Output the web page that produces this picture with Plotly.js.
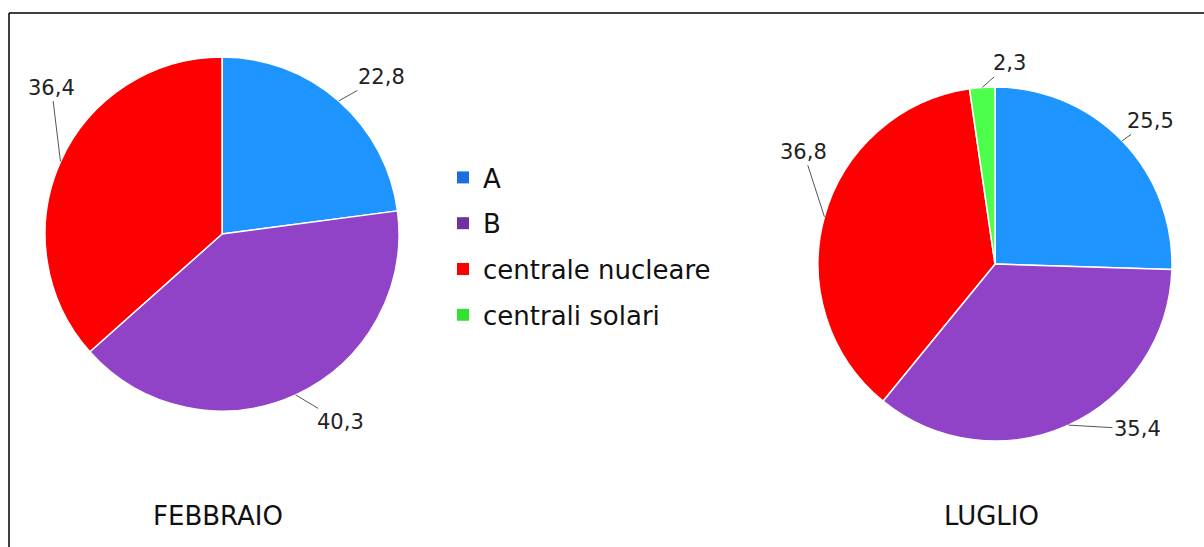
<!DOCTYPE html>
<html>
<head>
<meta charset="utf-8">
<script src="https://cdn.plot.ly/plotly-3.0.1.min.js"></script>
<style>html,body{margin:0;padding:0;background:#fff;}#chart{width:1204px;height:547px;}</style>
</head>
<body>
<div id="chart"></div>
<script>
// ---- data ----
var categories = ["A", "B", "centrale nucleare", "centrali solari"];
var febbraioValues = [22.8, 40.3, 36.4];
var luglioValues = [25.5, 35.4, 36.8, 2.3];
var chartTitles = ["FEBBRAIO", "LUGLIO"];

// ---- styles ----
var sliceColors = ["#1E94FF", "#9143C8", "#FF0000", "#4CFF4C"];
var legendColors = ["#1A6EDF", "#7030A0", "#FF0000", "#35E035"];
var FONT = "DejaVu Sans, Liberation Sans, Arial, sans-serif";
var W = 1204, H = 547;
// pie geometry (pixels): centre x, centre y, radius
var pieGeom = [{cx: 222, cy: 234, r: 177}, {cx: 995, cy: 264, r: 177}];
// label offsets from the slice rim point (pixels)
var labelOffsets = [
  [[43, -24], [45, 27], [-9, -74]],
  [[28, -20], [69, 4], [-21, -65], [27, -24]]
];

function dom(g) {
  return {x: [(g.cx - g.r) / W, (g.cx + g.r) / W], y: [(H - g.cy - g.r) / H, (H - g.cy + g.r) / H]};
}
function fmt(v) { return v.toFixed(1).replace(".", ","); }

var traces = [];
var annotations = [];
[febbraioValues, luglioValues].forEach(function (vals, k) {
  var g = pieGeom[k];
  traces.push({
    type: "pie",
    labels: categories.slice(0, vals.length),
    values: vals,
    sort: false,
    direction: "clockwise",
    rotation: 0,
    textinfo: "none",
    marker: {colors: sliceColors.slice(0, vals.length), line: {color: "#ffffff", width: 1.5}},
    domain: dom(g),
    name: chartTitles[k],
    showlegend: false,
    hoverinfo: "label+value"
  });
  var total = vals.reduce(function (a, b) { return a + b; }, 0);
  var cum = 0;
  vals.forEach(function (v, i) {
    var mid = (cum + v / 2) / total * 2 * Math.PI;
    cum += v;
    var px = g.cx + g.r * Math.sin(mid);
    var py = g.cy - g.r * Math.cos(mid);
    annotations.push({
      xref: "paper", yref: "paper",
      x: px / W, y: 1 - py / H,
      ax: labelOffsets[k][i][0], ay: labelOffsets[k][i][1],
      text: fmt(v),
      showarrow: true, arrowhead: 0, arrowwidth: 1, arrowcolor: "#555",
      standoff: 0, startstandoff: 0,
      font: {family: FONT, size: 21, color: "#222"}
    });
  });
  annotations.push({
    text: chartTitles[k], xref: "paper", yref: "paper",
    x: (g.cx - 4) / W, y: (H - 516) / H, xanchor: "center", yanchor: "middle",
    showarrow: false, font: {family: FONT, size: 26, color: "#111"}
  });
});

// legend entries
categories.forEach(function (c, i) {
  traces.push({
    type: "scatter", mode: "markers", x: [null], y: [null],
    name: c, legendgroup: "g" + i,
    marker: {symbol: "square", size: 12, color: legendColors[i]},
    hoverinfo: "skip"
  });
});

var layout = {
  width: W, height: H,
  margin: {l: 0, r: 0, t: 0, b: 0},
  paper_bgcolor: "#fff", plot_bgcolor: "rgba(0,0,0,0)",
  font: {family: FONT, color: "#111"},
  xaxis: {visible: false}, yaxis: {visible: false},
  showlegend: true,
  legend: {
    x: 443 / W, y: 1 - 154 / H, xanchor: "left", yanchor: "top",
    font: {family: FONT, size: 26, color: "#111"},
    traceorder: "grouped", tracegroupgap: 9,
    bgcolor: "rgba(0,0,0,0)"
  },
  annotations: annotations,
  shapes: [
    {type: "line", xref: "paper", yref: "paper", x0: 9 / W, x1: 1, y0: 1 - 13 / H, y1: 1 - 13 / H, line: {color: "#000", width: 1.5}},
    {type: "line", xref: "paper", yref: "paper", x0: 9 / W, x1: 9 / W, y0: 0, y1: 1 - 13 / H, line: {color: "#000", width: 1.5}}
  ]
};
Plotly.newPlot("chart", traces, layout, {displayModeBar: false, staticPlot: true});
</script>
</body>
</html>
